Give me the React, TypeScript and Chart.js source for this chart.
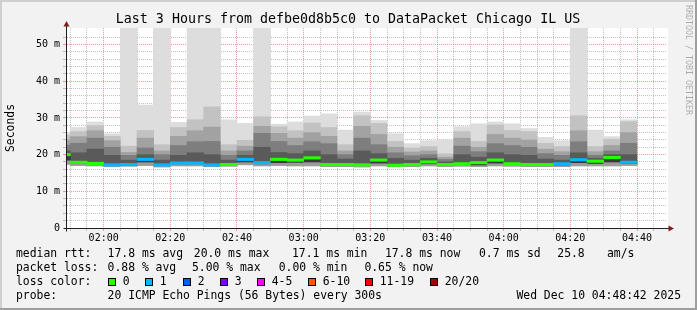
import { useEffect, useRef } from 'react';
import { Chart, registerables } from 'chart.js';

Chart.register(...registerables);

const FONT = '"DejaVu Sans Mono", monospace';

// 5-minute slots (start times)
const slotStarts = [
  '01:45', '01:50', '01:55', '02:00', '02:05', '02:10', '02:15', '02:20', '02:25', '02:30', '02:35', '02:40',
  '02:45', '02:50', '02:55', '03:00', '03:05', '03:10', '03:15', '03:20', '03:25', '03:30', '03:35', '03:40',
  '03:45', '03:50', '03:55', '04:00', '04:05', '04:10', '04:15', '04:20', '04:25', '04:30', '04:35',
];

// sorted ping levels (ms) per slot
const pMax = [26.1, 27.4, 28.9, 25.7, 71.2, 33.5, 64.8, 28.8, 96.4, 62.3, 29.5, 28.5, 80.1, 28.3, 28.9, 30.5, 31.1, 26.7, 31.6, 29.3, 25.7, 23.0, 23.8, 24.0, 27.6, 28.4, 28.9, 28.4, 27.1, 24.7, 23.8, 58.9, 26.7, 24.9, 29.5];
const p19 = [25.3, 26.3, 27.9, 25.0, 22.3, 26.6, 22.7, 27.4, 29.5, 33.0, 22.7, 23.9, 30.3, 27.6, 26.5, 28.6, 27.4, 22.7, 30.6, 28.5, 23.6, 21.8, 22.2, 20.2, 26.3, 23.6, 28.1, 26.6, 26.3, 23.1, 22.2, 30.6, 22.2, 24.2, 29.0];
const p17 = [24.0, 24.9, 26.5, 23.8, 20.6, 24.5, 21.0, 25.0, 26.5, 27.5, 21.0, 22.3, 27.7, 25.8, 24.5, 26.0, 25.0, 21.0, 27.7, 25.5, 22.0, 20.7, 21.0, 19.3, 24.5, 22.0, 25.5, 24.5, 24.0, 21.5, 20.8, 26.5, 20.8, 22.5, 26.0];
const p15 = [22.6, 23.1, 24.5, 22.0, 19.8, 21.8, 20.0, 22.5, 23.5, 23.6, 19.8, 21.0, 25.8, 23.6, 22.5, 23.5, 23.0, 20.0, 24.5, 22.7, 20.5, 19.7, 20.0, 18.7, 22.3, 20.8, 23.0, 22.5, 22.0, 20.3, 19.8, 23.5, 19.8, 21.0, 23.1];
const p13 = [21.0, 20.5, 21.5, 19.8, 18.5, 20.0, 18.5, 19.8, 20.5, 20.0, 18.5, 19.8, 22.0, 20.6, 20.3, 21.0, 20.0, 18.8, 21.0, 20.3, 19.0, 18.5, 19.0, 18.0, 20.0, 19.3, 20.5, 20.0, 19.8, 18.8, 18.5, 20.5, 19.0, 20.0, 20.0];
const median = [20.0, 17.9, 17.6, 17.2, 17.3, 18.7, 17.2, 17.7, 17.7, 17.2, 17.3, 18.7, 17.8, 18.7, 18.5, 19.1, 17.3, 17.3, 17.2, 18.5, 17.1, 17.3, 18.0, 17.3, 17.5, 17.8, 18.5, 17.5, 17.3, 17.3, 17.5, 18.6, 18.2, 19.2, 17.9];
const p5 = [18.3, 17.5, 17.3, 16.9, 17.0, 17.8, 16.9, 17.3, 17.3, 16.9, 17.0, 17.8, 17.3, 17.6, 17.7, 17.8, 17.0, 17.0, 16.9, 17.5, 16.9, 17.0, 17.3, 17.0, 17.2, 17.0, 17.5, 17.1, 17.0, 17.0, 17.0, 17.6, 17.4, 17.8, 17.4];
const pMin = [17.3, 17.0, 16.9, 16.7, 16.8, 17.0, 16.6, 16.9, 16.9, 16.7, 16.8, 17.2, 16.9, 17.0, 16.9, 16.9, 16.7, 16.7, 16.6, 16.9, 16.7, 16.7, 16.9, 16.7, 16.8, 16.7, 16.9, 16.8, 16.7, 16.7, 16.7, 16.9, 16.9, 16.9, 17.0];
// lost pings per slot (out of 20)
const lostPings = [0, 0, 0, 1, 1, 1, 1, 1, 1, 1, 0, 1, 1, 0, 0, 0, 0, 0, 0, 0, 0, 0, 0, 0, 0, 0, 0, 0, 0, 0, 1, 1, 0, 0, 1];

const lossLabels = ['0', '1', '2', '3', '4-5', '6-10', '11-19', '20/20'];
const lossUpper = [0, 1, 2, 3, 5, 10, 19, 20];
const lossColors = ['#26ff00', '#00b8ff', '#0059ff', '#7e00ff', '#ff00ff', '#ff5500', '#ff0000', '#a10000'];

const titleText = 'Last 3 Hours from defbe0d8b5c0 to DataPacket Chicago IL US';
const statRows = [
  { label: 'median rtt:', items: ['17.8 ms avg', '20.0 ms max', '17.1 ms min', '17.8 ms now', '0.7 ms sd', '25.8', 'am/s'] },
  { label: 'packet loss:', items: ['0.88 % avg', '5.00 % max', '0.00 % min', '0.65 % now'] },
];
const probeText = '20 ICMP Echo Pings (56 Bytes) every 300s';
const dateText = 'Wed Dec 10 04:48:42 2025';

const X_MIN = 108.7; // 01:48:42 in minutes
const X_MAX = 288.7; // 04:48:42
const Y_MAX = 54.5;
const X_GRID_FIRST = '01:50';
const X_GRID_LAST = '04:45';

const toMin = (s: string) => {
  const [h, m] = s.split(':').map(Number);
  return h * 60 + m;
};
const slotCenters = slotStarts.map((s) => toMin(s) + 2.5);
const lossColor = (n: number) => lossColors[lossUpper.findIndex((u) => n <= u)];

const xGridMinutes: number[] = [];
for (let m = toMin(X_GRID_FIRST); m <= toMin(X_GRID_LAST); m += 5) xGridMinutes.push(m);

const GRID = 'rgba(143,143,143,0.55)';
const MGRID = 'rgba(222,79,79,0.55)';
const isMult = (v: number, m: number) => Math.abs(v / m - Math.round(v / m)) < 1e-6;
const fmtTime = (v: number) => {
  const r = Math.round(v);
  return `${String(Math.floor(r / 60)).padStart(2, '0')}:${String(r % 60).padStart(2, '0')}`;
};

const bands = [
  { lo: pMin, hi: p5, color: '#9c9c9c' },
  { lo: p5, hi: median, color: '#3a3a3a' },
  { lo: median, hi: p13, color: '#5a5a5a' },
  { lo: p13, hi: p15, color: '#7e7e7e' },
  { lo: p15, hi: p17, color: '#a2a2a2' },
  { lo: p17, hi: p19, color: '#c2c2c2' },
  { lo: p19, hi: pMax, color: '#dddddd' },
];

const decor = {
  id: 'decor',
  beforeDraw(chart: any) {
    const { ctx, chartArea: a } = chart;
    ctx.save();
    ctx.fillStyle = '#f2f2f2';
    ctx.fillRect(0, 0, 697, 310);
    ctx.fillStyle = '#cfcfcf';
    ctx.fillRect(0, 0, 697, 2);
    ctx.fillRect(0, 0, 2, 310);
    ctx.fillStyle = '#9e9e9e';
    ctx.fillRect(0, 308, 697, 2);
    ctx.fillRect(695, 0, 2, 310);
    ctx.fillStyle = '#ffffff';
    ctx.fillRect(a.left, a.top, a.right - a.left + 2, a.bottom - a.top);
    ctx.restore();
  },
  afterDraw(chart: any) {
    const { ctx, chartArea: a } = chart;
    ctx.save();
    // axes + arrows
    const ax = a.left + 0.5;
    const ay = a.bottom + 0.5;
    ctx.strokeStyle = '#1f1f1f';
    ctx.lineWidth = 1;
    ctx.beginPath();
    ctx.moveTo(ax, ay + 3);
    ctx.lineTo(ax, a.top - 2);
    ctx.moveTo(ax - 3, ay);
    ctx.lineTo(a.right + 3, ay);
    ctx.stroke();
    ctx.fillStyle = 'rgb(128,31,31)';
    ctx.beginPath();
    ctx.moveTo(ax, a.top - 7);
    ctx.lineTo(ax - 3, a.top - 1.5);
    ctx.lineTo(ax + 3, a.top - 1.5);
    ctx.closePath();
    ctx.fill();
    ctx.beginPath();
    ctx.moveTo(a.right + 8, ay);
    ctx.lineTo(a.right + 2.5, ay - 3);
    ctx.lineTo(a.right + 2.5, ay + 3);
    ctx.closePath();
    ctx.fill();

    // title
    ctx.fillStyle = '#000';
    ctx.textBaseline = 'middle';
    ctx.textAlign = 'center';
    ctx.font = `13.3px ${FONT}`;
    ctx.fillText(titleText, 348, 19.5);

    // watermark
    ctx.save();
    ctx.translate(688, 5);
    ctx.rotate(Math.PI / 2);
    ctx.textAlign = 'left';
    ctx.fillStyle = 'rgba(0,0,0,0.3)';
    ctx.font = `8.3px ${FONT}`;
    ctx.fillText('RRDTOOL / TOBI OETIKER', 0, 0);
    ctx.restore();

    // legend
    ctx.textAlign = 'left';
    ctx.font = `11.4px ${FONT}`;
    ctx.fillStyle = '#000';
    const row1x = [107.6, 193.8, 292, 384.9, 479, 557.3, 607];
    const row2x = [107.6, 192, 278.7, 364.4];
    ctx.fillText(statRows[0].label, 16, 254);
    statRows[0].items.forEach((t, i) => ctx.fillText(t, row1x[i], 254));
    ctx.fillText(statRows[1].label, 16, 268.3);
    statRows[1].items.forEach((t, i) => ctx.fillText(t, row2x[i], 268.3));
    ctx.fillText('loss color:', 16, 282.3);
    const boxX = [108, 145, 183, 220, 257, 308, 365, 430];
    lossLabels.forEach((lbl, i) => {
      ctx.fillStyle = lossColors[i];
      ctx.fillRect(boxX[i], 278, 8, 8);
      ctx.strokeStyle = '#000';
      ctx.strokeRect(boxX[i] + 0.5, 278.5, 7, 7);
      ctx.fillStyle = '#000';
      ctx.fillText(lbl, boxX[i] + 14.7, 282.3);
    });
    ctx.fillText('probe:', 16, 296.3);
    ctx.fillText(probeText, 107.6, 296.3);
    ctx.textAlign = 'right';
    ctx.fillText(dateText, 681, 296.3);
    ctx.restore();
  },
};

export default function App() {
  const ref = useRef<HTMLCanvasElement>(null);
  useEffect(() => {
    const datasets: any[] = [
      {
        label: 'median',
        data: slotCenters.map((x, i) => ({ x, y: [median[i] - 0.33, median[i] + 0.33] })),
        backgroundColor: lostPings.map((n) => lossColor(n)),
        order: 0,
      },
      ...bands.map((b, k) => ({
        label: 'smoke' + k,
        data: slotCenters.map((x, i) => ({ x, y: [b.lo[i], b.hi[i]] })),
        backgroundColor: b.color,
        order: 1 + k,
      })),
    ];
    const gridColor = (c: any) => (c.tick && isMult(c.tick.value, 20) ? MGRID : GRID);
    const yGridColor = (c: any) =>
      c.tick && c.tick.value === 0 ? 'rgba(0,0,0,0)' : c.tick && isMult(c.tick.value, 10) ? MGRID : GRID;
    const chart = new Chart(ref.current!, {
      type: 'bar',
      data: { datasets },
      plugins: [decor],
      options: {
        animation: false,
        responsive: false,
        devicePixelRatio: 1,
        events: [],
        layout: { padding: { left: 0, top: 28, right: 31, bottom: 62 } },
        datasets: {
          bar: { grouped: false, barPercentage: 1, categoryPercentage: 1, borderWidth: 0 },
        },
        plugins: { legend: { display: false }, tooltip: { enabled: false }, title: { display: false } },
        scales: {
          x: {
            type: 'linear',
            min: X_MIN,
            max: X_MAX,
            offset: false,
            z: 1,
            afterFit: (s: any) => {
              s.height = 20;
            },
            afterBuildTicks: (s: any) => {
              s.ticks = xGridMinutes.map((value) => ({ value }));
            },
            ticks: {
              stepSize: 5,
              autoSkip: false,
              maxRotation: 0,
              padding: 1,
              color: '#000',
              font: { family: FONT, size: 10 },
              callback: (v: any) => (isMult(Number(v), 20) ? fmtTime(Number(v)) : ''),
            },
            grid: {
              offset: false,
              lineWidth: 1,
              tickLength: 3,
              color: gridColor,
              tickColor: gridColor,
              tickBorderDash: [],
            },
            border: { display: true, color: '#1f1f1f', dash: [1, 1] },
          },
          y: {
            type: 'linear',
            min: 0,
            max: Y_MAX,
            z: 1,
            afterFit: (s: any) => {
              s.width = 66;
            },
            afterBuildTicks: (s: any) => {
              s.ticks = s.ticks.filter((t: any) => isMult(t.value, 2));
            },
            ticks: {
              stepSize: 2,
              autoSkip: false,
              padding: 3,
              color: '#000',
              font: { family: FONT, size: 10 },
              callback: (v: any) => {
                const n = Number(v);
                if (!isMult(n, 10)) return '';
                return n === 0 ? '0' : `${n} m`;
              },
            },
            grid: {
              lineWidth: 1,
              tickLength: 3,
              color: yGridColor,
              tickColor: yGridColor,
              tickBorderDash: [],
            },
            border: { display: true, color: '#1f1f1f', dash: [1, 1] },
            title: {
              display: true,
              text: 'Seconds',
              color: '#000',
              font: { family: FONT, size: 11.4 },
              padding: { top: 4, bottom: 0 },
            },
          },
        },
      } as any,
    });
    return () => chart.destroy();
  }, []);
  return (
    <div style={{ position: 'absolute', left: 0, top: 0, width: 697, height: 310 }}>
      <canvas ref={ref} width={697} height={310} style={{ display: 'block', width: 697, height: 310 }} />
    </div>
  );
}
